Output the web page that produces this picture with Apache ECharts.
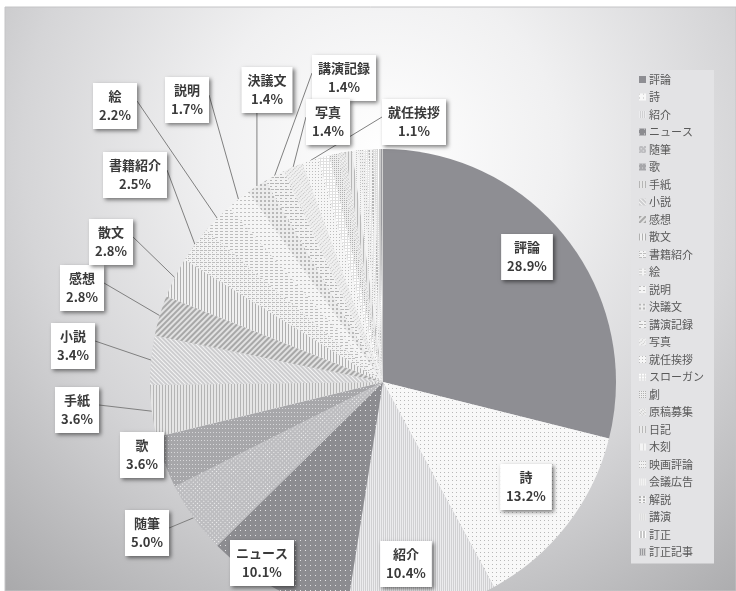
<!DOCTYPE html>
<html>
<head>
<meta charset="utf-8">
<script src="https://cdn.jsdelivr.net/npm/echarts@6/dist/echarts.min.js"></script>
<style>
  html, body { margin: 0; padding: 0; background: #ffffff; }
  #chart { width: 736px; height: 591px; }
</style>
</head>
<body>
<div id="chart"></div>
<script>
// Share of article types (%), clockwise from 12 o'clock
const categories = [
  '評論', '詩', '紹介', 'ニュース', '随筆', '歌', '手紙', '小説', '感想', '散文',
  '書籍紹介', '絵', '説明', '決議文', '講演記録', '写真', '就任挨拶',
  'スローガン', '劇', '原稿募集', '日記', '木刻', '映画評論', '会議広告', '解説', '講演', '訂正', '訂正記事'
];
const shares = [
  28.9, 13.2, 10.4, 10.1, 5.0, 3.6, 3.6, 3.4, 2.8, 2.8,
  2.5, 2.2, 1.7, 1.4, 1.4, 1.4, 1.1,
  0.8, 0.6, 0.5, 0.5, 0.4, 0.4, 0.3, 0.3, 0.3, 0.2, 0.2
];
// Categories that carry a value label; the first four sit inside their slice
const labelled = ['評論', '詩', '紹介', 'ニュース', '随筆', '歌', '手紙', '小説', '感想', '散文',
  '書籍紹介', '絵', '説明', '決議文', '講演記録', '写真', '就任挨拶'];
const insideLabels = ['評論', '詩', '紹介', 'ニュース'];

// Where each callout box is centred
const labelSpots = {
  '評論': [527, 257], '詩': [526, 487], '紹介': [406, 564], 'ニュース': [262, 563],
  '随筆': [147, 533], '歌': [142, 455], '手紙': [77, 410], '小説': [73, 346],
  '感想': [82, 288], '散文': [111, 242], '書籍紹介': [135, 175], '絵': [115, 106],
  '説明': [187, 100], '決議文': [267, 90], '講演記録': [344, 78], '写真': [328, 122],
  '就任挨拶': [414, 122]
};

// Grey fill + hatch pattern for each slice
function pat(bg, fg, dx, dy, rot) {
  return {
    color: bg,
    decal: { symbol: 'rect', symbolSize: 1, color: fg, dashArrayX: dx, dashArrayY: dy, rotation: rot || 0 }
  };
}
const sliceStyles = [
  { color: '#8e8e93' },
  pat('#f8f8f8', '#b8b8b8', [1, 3], [1, 3]),
  pat('#d0d0d2', '#ececee', [1, 1], [1, 0]),
  pat('#8c8c90', '#e4e4e6', [1, 4], [1, 4]),
  pat('#bdbdc0', '#f2f2f2', [1, 2], [1, 2], 0.785),
  pat('#a7a7aa', '#d8d8da', [1, 2], [1, 3]),
  pat('#e6e6e6', '#b5b5b5', [1, 2], [1, 0]),
  pat('#cdcdcf', '#f4f4f4', [1, 2], [1, 0], -0.785),
  pat('#e2e2e2', '#a8a8a8', [2, 2], [1, 0], 0.785),
  pat('#f0f0f0', '#b0b0b0', [1, 2], [1, 0]),
  pat('#f3f3f3', '#bdbdbd', [[3, 1], [1, 3]], [1, 1]),
  pat('#f4f4f4', '#bcbcbc', [3, 2], [1, 2]),
  pat('#f5f5f5', '#c0c0c0', [2, 2], [1, 3]),
  pat('#ececec', '#b8b8b8', [2, 2], [2, 2]),
  pat('#f2f2f2', '#b5b5b5', [[4, 1], [2, 3]], [1, 2]),
  pat('#f0f0f0', '#c0c0c0', [1, 2], [1, 1], 0.785),
  pat('#f6f6f6', '#bcbcbc', [1, 2], [1, 2]),
  pat('#e0e0e0', '#ffffff', [2, 1], [2, 1]),
  pat('#ededed', '#b0b0b0', [1, 1], [1, 1]),
  pat('#f2f2f2', '#c6c6c6', [2, 1], [1, 1], 0.785),
  pat('#eaeaea', '#b8b8b8', [1, 2], [1, 0]),
  pat('#f4f4f4', '#c4c4c4', [1, 3], [1, 1]),
  pat('#f0f0f0', '#bbbbbb', [1, 1], [1, 2]),
  pat('#e6e6e6', '#ffffff', [1, 1], [1, 1]),
  pat('#f2f2f2', '#b6b6b6', [2, 2], [2, 1]),
  pat('#dedede', '#f6f6f6', [1, 1], [1, 1]),
  pat('#c8c8c8', '#ffffff', [1, 2], [1, 0]),
  pat('#9a9a9e', '#d0d0d0', [1, 1], [1, 0])
];

const pieData = categories.map((name, i) => {
  const hasLabel = labelled.indexOf(name) >= 0;
  const inside = insideLabels.indexOf(name) >= 0;
  return {
    name: name,
    value: shares[i],
    itemStyle: sliceStyles[i],
    label: { show: hasLabel },
    labelLine: { show: hasLabel && !inside }
  };
});

const chart = echarts.init(document.getElementById('chart'), null, { renderer: 'canvas' });

chart.setOption({
  animation: false,
  backgroundColor: '#ffffff',
  graphic: [{
    type: 'rect',
    z: -10,
    silent: true,
    shape: { x: 5, y: 7, width: 731, height: 584 },
    style: {
      fill: {
        type: 'radial', x: 0.52, y: 0.25, r: 1.0,
        colorStops: [
          { offset: 0, color: '#ffffff' },
          { offset: 0.3, color: '#f0f0f1' },
          { offset: 0.62, color: '#d5d5d7' },
          { offset: 1, color: '#a8a8aa' }
        ]
      },
      stroke: '#c4c4c6',
      lineWidth: 1
    }
  }],
  legend: {
    orient: 'vertical',
    left: 631,
    top: 70,
    padding: [4, 10, 6, 8],
    backgroundColor: '#e3e3e5',
    itemWidth: 7,
    itemHeight: 7,
    itemGap: 6.5,
    icon: 'rect',
    textStyle: { fontSize: 11, color: '#5a5a5a', fontFamily: 'Noto Sans CJK JP', padding: [0, 0, 0, -2] },
    data: categories
  },
  series: [{
    type: 'pie',
    center: [383, 382],
    radius: 233,
    startAngle: 90,
    clockwise: true,
    avoidLabelOverlap: false,
    itemStyle: { borderWidth: 0 },
    emphasis: { disabled: true },
    label: {
      position: 'outside',
      formatter: p => p.name + '\n' + p.value.toFixed(1) + '%',
      backgroundColor: '#ffffff',
      padding: [4, 6],
      lineHeight: 19,
      fontSize: 13,
      fontWeight: 'bold',
      fontFamily: 'Noto Sans CJK JP',
      color: '#3a3a3a',
      align: 'center',
      shadowColor: 'rgba(0,0,0,0.5)',
      shadowBlur: 4,
      shadowOffsetX: 2,
      shadowOffsetY: 2
    },
    labelLine: {
      length: 10,
      length2: 10,
      lineStyle: { color: '#808080', width: 1 }
    },
    labelLayout: function (params) {
      const name = categories[params.dataIndex];
      const spot = labelSpots[name];
      if (!spot) return {};
      const w = params.labelRect.width, h = params.labelRect.height;
      const res = { x: spot[0], y: spot[1], align: 'center', verticalAlign: 'middle' };
      const pts = params.labelLinePoints;
      if (pts && insideLabels.indexOf(name) < 0) {
        const e = pts[0];
        const x0 = spot[0] - w / 2, x1 = spot[0] + w / 2;
        const y0 = spot[1] - h / 2, y1 = spot[1] + h / 2;
        let a;
        if (e[0] > x1) a = [x1, spot[1] - 5];
        else if (e[0] < x0) a = [x0, spot[1] - 5];
        else if (e[1] > y1) a = [Math.min(Math.max(e[0], x0), x1), y1];
        else a = [Math.min(Math.max(e[0], x0), x1), y0];
        res.labelLinePoints = [[e[0], e[1]], [a[0], a[1]], [a[0], a[1]]];
      }
      return res;
    },
    data: pieData
  }]
});
</script>
</body>
</html>
